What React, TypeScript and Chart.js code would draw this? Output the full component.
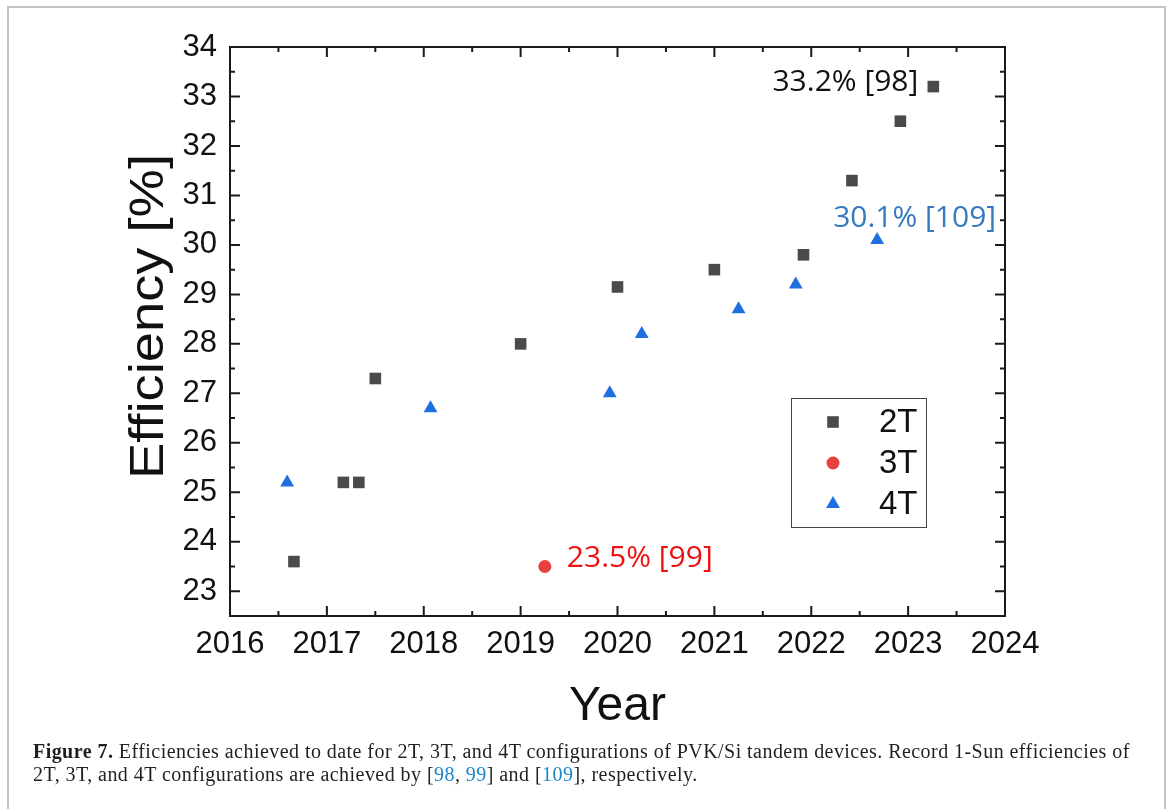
import React, { useEffect, useRef } from "react";
import { Chart, registerables } from "chart.js";

Chart.register(...registerables);

// ---- data ----
const xTickValues = [2016, 2017, 2018, 2019, 2020, 2021, 2022, 2023, 2024];
const yTickValues = [23, 24, 25, 26, 27, 28, 29, 30, 31, 32, 33, 34];

const seriesNames = ["2T", "3T", "4T"];

const years2T = [2016.66, 2017.17, 2017.33, 2017.5, 2019.0, 2020.0, 2021.0, 2021.92, 2022.42, 2022.92, 2023.26];
const eff2T = [23.6, 25.2, 25.2, 27.3, 28.0, 29.15, 29.5, 29.8, 31.3, 32.5, 33.2];

const years3T = [2019.25];
const eff3T = [23.5];

const years4T = [2016.59, 2018.07, 2019.92, 2020.25, 2021.25, 2021.84, 2022.68];
const eff4T = [25.2, 26.7, 27.0, 28.2, 28.7, 29.2, 30.1];

const annotationTexts = ["33.2% [98]", "23.5% [99]", "30.1% [109]"];

const yTitle = "Efficiency [%]";
const xTitle = "Year";

// ---- styles ----
const COLORS = { "2T": "#4a4a4a", "3T": "#e8403f", "4T": "#1e6fe0" };
const ANNOT = [
  { ds: 0, idx: 10, dx: -15, dy: -4, align: "right", color: "#111111" },
  { ds: 1, idx: 0, dx: 22, dy: -8, align: "left", color: "#ee1111" },
  { ds: 2, idx: 6, dx: -44, dy: -22, align: "left", color: "#3579c0" },
];

const toPts = (xs: number[], ys: number[]) => xs.map((x, i) => ({ x, y: ys[i] }));

function drawMarker(ctx: CanvasRenderingContext2D, kind: string, x: number, y: number, color: string) {
  ctx.fillStyle = color;
  ctx.beginPath();
  if (kind === "rect") {
    const s = 5.8;
    ctx.rect(x - s, y - s, 2 * s, 2 * s);
  } else if (kind === "circle") {
    ctx.arc(x, y, 6.5, 0, Math.PI * 2);
  } else {
    const r = 8;
    ctx.moveTo(x, y - r);
    ctx.lineTo(x + r * Math.sin((2 * Math.PI) / 3), y - r * Math.cos((2 * Math.PI) / 3));
    ctx.lineTo(x + r * Math.sin((4 * Math.PI) / 3), y - r * Math.cos((4 * Math.PI) / 3));
    ctx.closePath();
  }
  ctx.fill();
}

const framePlugin = {
  id: "framePlugin",
  afterDatasetsDraw(chart: any) {
    const { ctx, chartArea, scales } = chart;
    const { left, right, top, bottom } = chartArea;
    const xs = scales.x;
    const ys = scales.y;
    ctx.save();
    ctx.strokeStyle = "#1a1a1a";
    ctx.lineWidth = 2;
    ctx.beginPath();
    const major = 10;
    const minor = 5;
    const xMinor = xTickValues.slice(0, -1).map((v) => v + 0.5);
    const yMinor = yTickValues.slice(0, -1).map((v) => v + 0.5);
    xTickValues.forEach((v) => {
      const p = xs.getPixelForValue(v);
      ctx.moveTo(p, bottom); ctx.lineTo(p, bottom - major);
      ctx.moveTo(p, top); ctx.lineTo(p, top + major);
    });
    xMinor.forEach((v) => {
      const p = xs.getPixelForValue(v);
      ctx.moveTo(p, bottom); ctx.lineTo(p, bottom - minor);
      ctx.moveTo(p, top); ctx.lineTo(p, top + minor);
    });
    yTickValues.forEach((v) => {
      const p = ys.getPixelForValue(v);
      ctx.moveTo(left, p); ctx.lineTo(left + major, p);
      ctx.moveTo(right, p); ctx.lineTo(right - major, p);
    });
    yMinor.forEach((v) => {
      const p = ys.getPixelForValue(v);
      ctx.moveTo(left, p); ctx.lineTo(left + minor, p);
      ctx.moveTo(right, p); ctx.lineTo(right - minor, p);
    });
    ctx.stroke();
    ctx.strokeRect(left, top, right - left, bottom - top);

    // y-axis title (rotated, slightly stretched)
    ctx.save();
    ctx.font = "48px 'Liberation Sans', Arial, sans-serif";
    ctx.fillStyle = "#111";
    ctx.textAlign = "left";
    ctx.textBaseline = "alphabetic";
    const w = ctx.measureText(yTitle).width;
    ctx.translate(163, 479);
    ctx.rotate(-Math.PI / 2);
    ctx.scale(325 / w, 1);
    ctx.fillText(yTitle, 0, 0);
    ctx.restore();

    // annotations
    ctx.textBaseline = "middle";
    ctx.font = "30px 'Open Sans', 'Noto Sans', sans-serif";
    ANNOT.forEach((a, i) => {
      const data = chart.data.datasets[a.ds].data[a.idx];
      const px = xs.getPixelForValue(data.x);
      const py = ys.getPixelForValue(data.y);
      ctx.fillStyle = a.color;
      ctx.textAlign = a.align as CanvasTextAlign;
      ctx.fillText(annotationTexts[i], px + a.dx, py + a.dy);
    });

    // legend
    const bx = 791, by = 398, bw = 135, bh = 129;
    ctx.lineWidth = 1;
    ctx.strokeStyle = "#444";
    ctx.strokeRect(bx + 0.5, by + 0.5, bw, bh);
    const rows = [422, 463, 504];
    const kinds = ["rect", "circle", "triangle"];
    ctx.font = "33px 'Liberation Sans', Arial, sans-serif";
    ctx.textAlign = "left";
    ctx.textBaseline = "middle";
    seriesNames.forEach((name, i) => {
      drawMarker(ctx, kinds[i], 833, rows[i], (COLORS as any)[name]);
      ctx.fillStyle = "#111";
      ctx.fillText(name, 879, rows[i] + 1);
    });
    ctx.restore();
  },
};

export default function App() {
  const canvasRef = useRef<HTMLCanvasElement | null>(null);

  useEffect(() => {
    const canvas = canvasRef.current;
    if (!canvas) return;
    const chart = new Chart(canvas, {
      type: "scatter",
      data: {
        datasets: [
          {
            label: seriesNames[0],
            data: toPts(years2T, eff2T),
            pointStyle: "rect",
            pointRadius: 8.2,
            backgroundColor: COLORS["2T"],
            borderColor: COLORS["2T"],
            borderWidth: 0,
          },
          {
            label: seriesNames[1],
            data: toPts(years3T, eff3T),
            pointStyle: "circle",
            pointRadius: 6.5,
            backgroundColor: COLORS["3T"],
            borderColor: COLORS["3T"],
            borderWidth: 0,
          },
          {
            label: seriesNames[2],
            data: toPts(years4T, eff4T),
            pointStyle: "triangle",
            pointRadius: 8,
            backgroundColor: COLORS["4T"],
            borderColor: COLORS["4T"],
            borderWidth: 0,
          },
        ],
      },
      options: {
        responsive: false,
        animation: false,
        layout: { padding: { left: 0, top: 47, right: 165, bottom: 63 } },
        plugins: { legend: { display: false }, tooltip: { enabled: false } },
        scales: {
          x: {
            type: "linear",
            min: 2016,
            max: 2024,
            grid: { display: false, drawTicks: false },
            border: { display: false },
            afterBuildTicks: (s: any) => { s.ticks = xTickValues.map((v) => ({ value: v })); },
            afterFit: (s: any) => { s.height = 130; },
            ticks: {
              padding: 10,
              color: "#111",
              font: { family: "'Liberation Sans', Arial, sans-serif", size: 31 },
              callback: (v: any) => String(v),
              maxRotation: 0,
            },
            title: {
              display: true,
              text: xTitle,
              color: "#111",
              font: { family: "'Liberation Sans', Arial, sans-serif", size: 48 },
              padding: { top: 0, bottom: 10 },
            },
          },
          y: {
            type: "linear",
            min: 22.5,
            max: 34,
            grid: { display: false, drawTicks: false },
            border: { display: false },
            afterBuildTicks: (s: any) => { s.ticks = yTickValues.map((v) => ({ value: v })); },
            afterFit: (s: any) => { s.width = 230; },
            ticks: {
              padding: 13,
              color: "#111",
              font: { family: "'Liberation Sans', Arial, sans-serif", size: 31 },
              callback: (v: any) => String(v),
            },
            title: { display: false },
          },
        },
      },
      plugins: [framePlugin],
    });
    return () => chart.destroy();
  }, []);

  return (
    <div style={{ position: "fixed", left: 0, top: 0, width: 1170, height: 809, background: "#fff", overflow: "hidden" }}>
      <div style={{ position: "absolute", left: 7, top: 6, width: 1155, height: 820, borderLeft: "2px solid #c4c4c4", borderTop: "2px solid #c4c4c4", borderRight: "2px solid #c4c4c4" }} />
      <canvas ref={canvasRef} width={1170} height={809} style={{ position: "absolute", left: 0, top: 0 }} />
      <div
        style={{
          position: "absolute",
          left: 33,
          top: 740,
          fontFamily: "'Liberation Serif', 'DejaVu Serif', serif",
          fontSize: 20,
          letterSpacing: "0.45px",
          lineHeight: "23px",
          color: "#231f20",
          whiteSpace: "nowrap",
        }}
      >
        <b>Figure 7.</b> Efficiencies achieved to date for 2T, 3T, and 4T configurations of PVK/Si tandem devices. Record 1-Sun efficiencies of
        <br />
        2T, 3T, and 4T configurations are achieved by [<span style={{ color: "#1a86c8" }}>98</span>, <span style={{ color: "#1a86c8" }}>99</span>] and [<span style={{ color: "#1a86c8" }}>109</span>], respectively.
      </div>
    </div>
  );
}
